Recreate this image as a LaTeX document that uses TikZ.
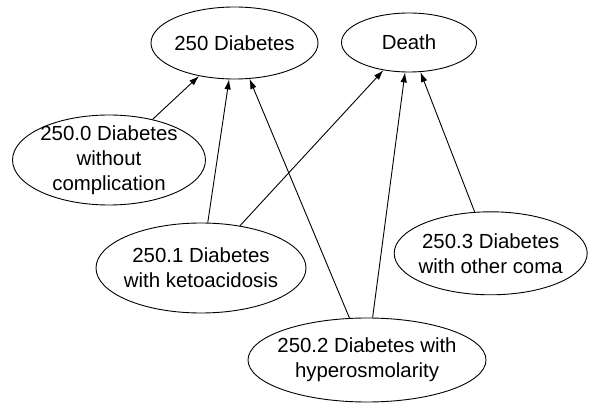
\documentclass[tikz,border=0pt]{standalone}
\usepackage{fontspec}
\setmainfont{Liberation Sans}
\usetikzlibrary{shapes.geometric,arrows.meta}
\begin{document}
\begin{tikzpicture}[x=1pt,y=-1pt,
  oval/.style={ellipse,draw=black,line width=0.9pt,inner sep=0pt},
  lbl/.style={align=center,inner sep=0pt,font=\fontsize{20.4}{25}\selectfont},
  edge/.style={draw=black,line width=0.9pt,-{Latex[length=10pt,width=6.5pt]}}]
\useasboundingbox (0,0) rectangle (589,403);
\node[oval,minimum width=167pt,minimum height=72pt] (d250) at (234.5,43) {};
\node[lbl] (d250t) at (d250) {250 Diabetes};
\node[oval,minimum width=135pt,minimum height=59pt] (death) at (409,42.5) {};
\node[lbl] (deatht) at (death) {Death};
\node[oval,minimum width=193pt,minimum height=90pt] (d0) at (109,160) {};
\node[lbl] (d0t) at (d0) {250.0 Diabetes\\without\\complication};
\node[oval,minimum width=210pt,minimum height=90pt] (d1) at (201,268) {};
\node[lbl] (d1t) at (d1) {250.1 Diabetes\\with ketoacidosis};
\node[oval,minimum width=238pt,minimum height=84pt] (d2) at (367,360) {};
\node[lbl] (d2t) at (d2) {250.2 Diabetes with\\hyperosmolarity};
\node[oval,minimum width=193pt,minimum height=83pt] (d3) at (490.7,253.3) {};
\node[lbl] (d3t) at (d3) {250.3 Diabetes\\with other coma};
\path[edge] (d0) -- (d250);
\path[edge] (d1) -- (d250);
\path[edge] (d1) -- (death);
\path[edge] (d2) -- (d250);
\path[edge] (d2) -- (death);
\path[edge] (d3) -- (death);
\end{tikzpicture}
\end{document}
